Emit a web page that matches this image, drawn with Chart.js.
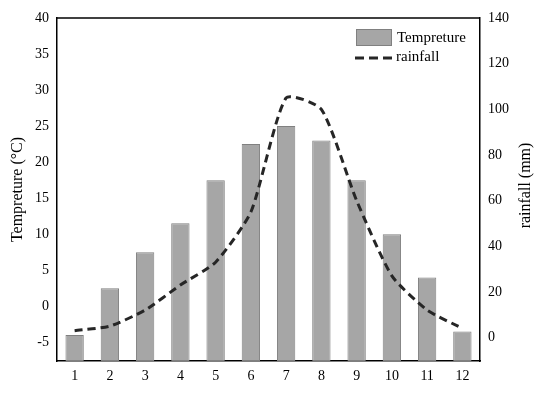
<!DOCTYPE html>
<html>
<head>
<meta charset="utf-8">
<script src="https://cdn.jsdelivr.net/npm/chart.js@4.4.0/dist/chart.umd.min.js"></script>
<style>
  body { margin: 0; background: #fff; }
  canvas { display: block; }
</style>
</head>
<body>
<canvas id="chart" width="550" height="394"></canvas>
<script>
// data
const months = ['1', '2', '3', '4', '5', '6', '7', '8', '9', '10', '11', '12'];
const temperature = [-4, 2.5, 7.5, 11.5, 17.5, 22.5, 25, 23, 17.5, 10, 4, -3.5];
const rainfall = [3, 5, 12, 23, 33, 55, 105, 100, 60, 27, 12, 4];
const tempTicks = [-5, 0, 5, 10, 15, 20, 25, 30, 35, 40];
const rainTicks = [0, 20, 40, 60, 80, 100, 120, 140];

const tempMin = -7.6;
const rainMin = -10.3;
const serif = 'Liberation Serif';

// axis titles, top border of the plot and the legend box
const extras = {
    id: 'extras',
    afterDatasetsDraw(chart) {
        const c = chart.ctx;
        const a = chart.chartArea;
        c.save();
        c.strokeStyle = '#000';
        c.lineWidth = 1.5;
        c.beginPath();
        c.moveTo(a.left, a.top);
        c.lineTo(a.right, a.top);
        c.stroke();

        c.fillStyle = '#000';
        c.font = '16px "' + serif + '"';
        c.textAlign = 'center';
        c.textBaseline = 'middle';
        const midY = (a.top + a.bottom) / 2;
        c.save();
        c.translate(18, midY);
        c.rotate(-Math.PI / 2);
        c.fillText('Tempreture (°C)', 0, 0);
        c.restore();
        c.save();
        c.translate(526, midY - 4);
        c.rotate(-Math.PI / 2);
        c.fillText('rainfall (mm)', 0, 0);
        c.restore();

        // legend
        c.fillStyle = '#a6a6a6';
        c.fillRect(356, 29, 36, 17);
        c.strokeStyle = '#808080';
        c.lineWidth = 1;
        c.strokeRect(356.5, 29.5, 35, 16);
        c.strokeStyle = '#262626';
        c.lineWidth = 3;
        c.setLineDash([9, 5]);
        c.beginPath();
        c.moveTo(355, 58);
        c.lineTo(396, 58);
        c.stroke();
        c.setLineDash([]);
        c.fillStyle = '#000';
        c.font = '15px "' + serif + '"';
        c.textAlign = 'left';
        c.fillText('Tempreture', 397, 38);
        c.fillText('rainfall', 396, 57);
        c.restore();
    }
};

const ctx = document.getElementById('chart').getContext('2d');
const chart = new Chart(ctx, {
    type: 'bar',
    data: {
        labels: months,
        datasets: [
            {
                type: 'line',
                label: 'rainfall',
                data: rainfall,
                yAxisID: 'y1',
                borderColor: '#262626',
                borderWidth: 3,
                borderDash: [8, 5],
                pointRadius: 0,
                tension: 0.2,
                fill: false,
                order: 0
            },
            {
                type: 'bar',
                label: 'Tempreture',
                data: temperature,
                yAxisID: 'y',
                base: tempMin,
                backgroundColor: '#a6a6a6',
                borderColor: '#808080',
                borderWidth: 1,
                borderSkipped: false,
                barPercentage: 0.52,
                categoryPercentage: 1,
                order: 1
            }
        ]
    },
    options: {
        responsive: false,
        animation: false,
        layout: { padding: { top: 18 } },
        plugins: {
            legend: { display: false },
            tooltip: { enabled: false }
        },
        scales: {
            x: {
                grid: { display: false, drawTicks: false },
                border: { color: '#000', width: 1.5 },
                ticks: { color: '#000', font: { family: serif, size: 14 }, padding: 7, maxRotation: 0 },
                afterFit(scale) { scale.height = 33; }
            },
            y: {
                position: 'left',
                min: tempMin,
                max: 40,
                grid: { display: false, drawTicks: false },
                border: { color: '#000', width: 1.5 },
                ticks: { color: '#000', font: { family: serif, size: 14 }, padding: 8 },
                afterBuildTicks(scale) { scale.ticks = tempTicks.map(v => ({ value: v })); },
                afterFit(scale) { scale.width = 57; }
            },
            y1: {
                position: 'right',
                min: rainMin,
                max: 140,
                grid: { display: false, drawTicks: false },
                border: { color: '#000', width: 1.5 },
                ticks: { color: '#000', font: { family: serif, size: 14 }, padding: 8 },
                afterBuildTicks(scale) { scale.ticks = rainTicks.map(v => ({ value: v })); },
                afterFit(scale) { scale.width = 70; }
            }
        }
    },
    plugins: [extras]
});
</script>
</body>
</html>
